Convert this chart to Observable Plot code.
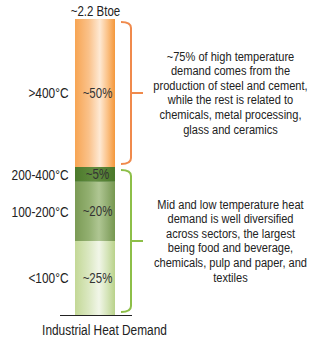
<!DOCTYPE html>
<html>
<head>
<meta charset="utf-8">
<script src="https://cdn.jsdelivr.net/npm/d3@7"></script>
<script src="https://cdn.jsdelivr.net/npm/@observablehq/plot@0.6"></script>
<style>
  html, body { margin: 0; padding: 0; background: #fff; }
  svg { display: block; }
</style>
</head>
<body>
<div id="chart"></div>
<script>
// ---- data ----
const category = "Industrial Heat Demand";
const totalLabel = "~2.2 Btoe";
const segments = ["<100°C", "100-200°C", "200-400°C", ">400°C"];
const shares = [25, 20, 5, 50];
const shareLabels = ["~25%", "~20%", "~5%", "~50%"];
const noteGroups = [[3], [0, 1, 2]];
const noteTexts = [
  "~75% of high temperature\ndemand comes from the\nproduction of steel and cement,\nwhile the rest is related to\nchemicals, metal processing,\nglass and ceramics",
  "Mid and low temperature heat\ndemand is well diversified\nacross sectors, the largest\nbeing food and beverage,\nchemicals, pulp and paper, and\ntextiles"
];

// ---- styles ----
const gradients = [
  [[0, "#c3d896"], [0.35, "#dbe8c2"], [0.6, "#f1f6e8"], [0.8, "#d6e5bb"], [1, "#b9d28a"]],
  [[0, "#7b9b55"], [0.35, "#93b071"], [0.6, "#afc693"], [0.8, "#93ae73"], [1, "#76984f"]],
  [[0, "#4c7a2b"], [0.5, "#628c41"], [1, "#4a7829"]],
  [[0, "#f7a553"], [0.35, "#fac28b"], [0.62, "#fee9d4"], [0.82, "#fbc084"], [1, "#f4973a"]]
];
const braceColors = ["#f08a4c", "#8dbf48"];
const font = "'Liberation Sans Narrow', 'Arial Narrow', 'Liberation Sans', Arial, sans-serif";
const narrow = 0.82;

const rows = segments.map((s, i) => ({
  category, segment: s, share: shares[i], label: shareLabels[i], fill: `url(#grad${i})`
}));

// cumulative extents
const cum = [];
let acc = 0;
shares.forEach(v => { cum.push([acc, acc + v]); acc += v; });
const total = acc;
const notes = noteGroups.map((g, k) => {
  const lo = Math.min(...g.map(i => cum[i][0]));
  const hi = Math.max(...g.map(i => cum[i][1]));
  return { category, lo, hi, mid: (lo + hi) / 2, text: noteTexts[k], color: braceColors[k] };
});
const segMids = rows.map((r, i) => ({ ...r, mid: (cum[i][0] + cum[i][1]) / 2 }));

const defsMark = () => {
  const ns = "http://www.w3.org/2000/svg";
  const defs = document.createElementNS(ns, "defs");
  gradients.forEach((stops, i) => {
    const lg = document.createElementNS(ns, "linearGradient");
    lg.setAttribute("id", `grad${i}`);
    lg.setAttribute("x1", "0"); lg.setAttribute("x2", "1");
    lg.setAttribute("y1", "0"); lg.setAttribute("y2", "0");
    stops.forEach(([o, c]) => {
      const st = document.createElementNS(ns, "stop");
      st.setAttribute("offset", o);
      st.setAttribute("stop-color", c);
      lg.appendChild(st);
    });
    defs.appendChild(lg);
  });
  return defs;
};

const braceMark = (index, scales) => {
  const ns = "http://www.w3.org/2000/svg";
  const g = document.createElementNS(ns, "g");
  const xr = scales.x(category) + scales.x.bandwidth();
  const xv = xr + 16, xh = xr + 6, xt = xr + 28, r = 6;
  notes.forEach(n => {
    const yTop = scales.y(n.hi) + 3, yBot = scales.y(n.lo) - 3, yMid = scales.y(n.mid);
    const p = document.createElementNS(ns, "path");
    p.setAttribute("d",
      `M${xh},${yTop} Q${xv},${yTop} ${xv},${yTop + r} L${xv},${yBot - r} Q${xv},${yBot} ${xh},${yBot}` +
      ` M${xv},${yMid} L${xt},${yMid}`);
    p.setAttribute("fill", "none");
    p.setAttribute("stroke", n.color);
    p.setAttribute("stroke-width", 2);
    g.appendChild(p);
  });
  return g;
};

const chart = Plot.plot({
  width: 313,
  height: 342,
  marginLeft: 60,
  marginRight: 181,
  marginTop: 19,
  marginBottom: 27,
  style: { fontFamily: font, background: "#fff", overflow: "visible" },
  x: { domain: [category], range: [75, 115], padding: 0, axis: null },
  y: { domain: [0, total], axis: null },
  color: { type: "identity" },
  marks: [
    defsMark,
    Plot.barY(rows, Plot.stackY({ x: "category", y: "share", fill: "fill", inset: 0 })),
    Plot.ruleY([0], { stroke: "#222", strokeWidth: 1 }),
    braceMark,
    Plot.text(segMids, { x: "category", y: "mid", text: "segment", textAnchor: "end", dx: -27, fontSize: 14.5, fill: "#222" }),
    Plot.text(segMids, { x: "category", y: "mid", text: "label", dx: 2, fontSize: 14, fill: "#333" }),
    Plot.text([totalLabel], { x: () => category, y: () => total, text: d => d, dy: -8, fontSize: 14, fill: "#222" }),
    Plot.text([category], { x: d => d, y: () => 0, text: d => d, dy: 15, dx: 9, fontSize: 14.5, fill: "#222" }),
    Plot.text(notes, { x: "category", y: "mid", text: "text", dx: 135, dy: -1, fontSize: 13.5, lineHeight: 1.08, fill: "#222" })
  ]
});
document.getElementById("chart").appendChild(chart);

// emulate a narrow typeface if no narrow face is installed
const probe = document.createElementNS("http://www.w3.org/2000/svg", "text");
probe.setAttribute("font-family", font);
probe.setAttribute("font-size", 100);
probe.textContent = "production";
chart.appendChild(probe);
const probeW = probe.getComputedTextLength();
probe.remove();
// Arial "production" ≈ 4.669em; a narrow face ≈ 3.83em
if (probeW > 420) {
  d3.select(chart).selectAll("text").each(function () {
    const x = +this.getAttribute("x") || 0;
    const y = +this.getAttribute("y") || 0;
    const tr = this.getAttribute("transform") || "";
    this.setAttribute("transform",
      `${tr} translate(${x},${y}) scale(${narrow},1) translate(${-x},${-y})`.trim());
  });
}
</script>
</body>
</html>
